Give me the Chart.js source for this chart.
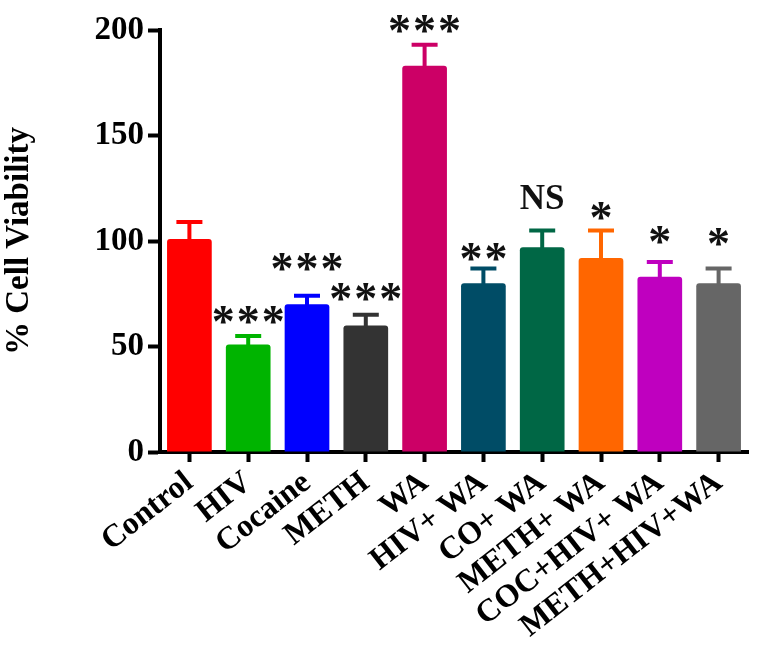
<!DOCTYPE html>
<html>
<head>
<meta charset="utf-8">
<script src="https://cdn.jsdelivr.net/npm/chart.js@4"></script>
<style>
  body { margin: 0; background: #fff; }
</style>
</head>
<body>
<canvas id="viability" width="760" height="654"></canvas>
<script>
// data
var groups = ['Control', 'HIV', 'Cocaine', 'METH', 'WA', 'HIV+ WA', 'CO+ WA', 'METH+ WA', 'COC+HIV+ WA', 'METH+HIV+WA'];
var viability = [101, 51, 70, 60, 183, 80, 97, 92, 83, 80];
var errors = [8, 4, 4, 5, 10, 7, 8, 13, 7, 7];
var sigLabels = ['', '***', '***', '***', '***', '**', 'NS', '*', '*', '*'];
var sigAt = [null, 65, 90, 76, 203, 95, 121, 114, 103, 102];
var yTicks = [0, 50, 100, 150, 200];

var barColors = ['#ff0000', '#00b400', '#0000ff', '#333333', '#cc0066',
                 '#004c66', '#006745', '#ff6600', '#bf00bf', '#666666'];

var serif = '"Liberation Serif", "Times New Roman", serif';

// error bars + significance marks
var extras = {
    id: 'extras',
    afterDatasetsDraw: function(chart) {
        var ctx = chart.ctx;
        var y = chart.scales.y;
        var bars = chart.getDatasetMeta(0).data;
        ctx.save();
        bars.forEach(function(bar, i) {
            var top = y.getPixelForValue(viability[i] + errors[i]);
            ctx.strokeStyle = barColors[i];
            ctx.lineWidth = 4;
            ctx.lineCap = 'butt';
            ctx.beginPath();
            ctx.moveTo(bar.x, bar.y + 2);
            ctx.lineTo(bar.x, top);
            ctx.moveTo(bar.x - 13, top);
            ctx.lineTo(bar.x + 13, top);
            ctx.stroke();

            var lab = sigLabels[i];
            if (!lab) return;
            var cy = y.getPixelForValue(sigAt[i]);
            ctx.fillStyle = '#111';
            ctx.textAlign = 'center';
            ctx.textBaseline = 'alphabetic';
            if (lab === 'NS') {
                ctx.font = 'bold 35px ' + serif;
                var m = ctx.measureText(lab);
                ctx.fillText(lab, bar.x, cy + (m.actualBoundingBoxAscent - m.actualBoundingBoxDescent) / 2);
            } else {
                ctx.font = 'bold 46px ' + serif;
                var ms = ctx.measureText('*');
                var off = (ms.actualBoundingBoxAscent - ms.actualBoundingBoxDescent) / 2;
                var n = lab.length, gap = 25;
                for (var k = 0; k < n; k++) {
                    var sx = bar.x + (k - (n - 1) / 2) * gap;
                    ctx.fillText('*', sx, cy + off);
                }
            }
        });
        ctx.restore();
    }
};

var ctxv = document.getElementById('viability');
var chart = new Chart(ctxv, {
    type: 'bar',
    data: {
        labels: groups,
        datasets: [{
            data: viability,
            backgroundColor: barColors,
            borderWidth: 0,
            borderRadius: 3,
            borderSkipped: 'bottom',
            barPercentage: 0.76,
            categoryPercentage: 1.0
        }]
    },
    options: {
        responsive: false,
        animation: false,
        layout: { padding: { top: 30, right: 12, left: 0, bottom: 0 } },
        plugins: {
            legend: { display: false },
            tooltip: { enabled: false }
        },
        scales: {
            x: {
                offset: true,
                grid: {
                    offset: false,
                    drawOnChartArea: false,
                    drawTicks: true,
                    tickLength: 10,
                    tickWidth: 4,
                    tickColor: '#000'
                },
                border: { display: true, width: 4, color: '#000' },
                ticks: {
                    color: '#000',
                    font: { family: serif, size: 32, weight: 'bold' },
                    maxRotation: 38,
                    minRotation: 38,
                    autoSkip: false,
                    padding: 2
                },
                afterFit: function(scale) { scale.height = 202; }
            },
            y: {
                min: 0,
                max: 200,
                afterBuildTicks: function(scale) {
                    scale.ticks = yTicks.map(function(v) { return { value: v }; });
                },
                grid: {
                    drawOnChartArea: false,
                    drawTicks: true,
                    tickLength: 12,
                    tickWidth: 4,
                    tickColor: '#000'
                },
                border: { display: true, width: 4, color: '#000' },
                ticks: {
                    color: '#000',
                    font: { family: serif, size: 33, weight: 'bold' },
                    padding: 4
                },
                title: {
                    display: true,
                    text: '% Cell Viability',
                    color: '#000',
                    font: { family: serif, size: 33, weight: 'bold' },
                    padding: { top: 0, bottom: 4 }
                },
                afterFit: function(scale) { scale.width = 160; }
            }
        }
    },
    plugins: [extras]
});
</script>
</body>
</html>
